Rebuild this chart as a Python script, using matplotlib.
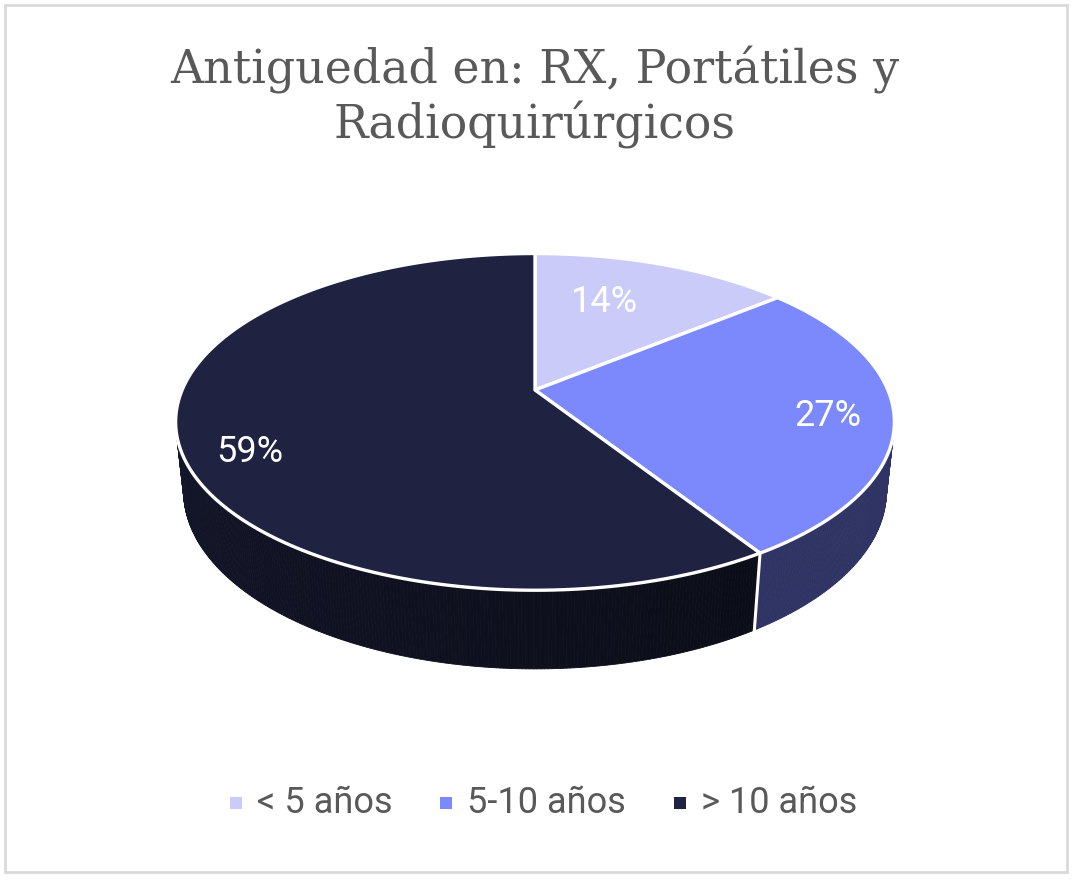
import numpy as np
import matplotlib
matplotlib.use("Agg")
import matplotlib.pyplot as plt
from matplotlib.patches import Polygon, Rectangle
from matplotlib.colors import to_rgb

# ---- data ----
categories = ["< 5 años", "5-10 años", "> 10 años"]
values = [14, 27, 59]
labels = ["14%", "27%", "59%"]
title_lines = ["Antiguedad en: RX, Portátiles y", "Radioquirúrgicos"]

# ---- style ----
top_colors = ["#cbcbfa", "#7b89fd", "#1f2240"]
side_colors = [("#8f8fc0", "#8f8fc0"), ("#2f3464", "#2f3464"), ("#1d1f3c", "#0b0d18")]
label_pos = [(605, 302), (828, 416), (250, 452)]

# projection parameters (pixel layout)
CX, CY, F, D, S = 535.0, 390.0, 1655.0, 4.69, 0.46
C = np.sqrt(1 - S**2)
H = 0.223

def proj(x, y, z):
    w = D + y * C - z * S
    u = y * S + z * C
    return CX + F * x / w, CY - F * u / w

fig = plt.figure(figsize=(10.72, 8.8), dpi=100)
ax = fig.add_axes([0, 0, 1, 1])
ax.set_xlim(0, 1072)
ax.set_ylim(880, 0)
ax.axis("off")

ax.add_patch(Rectangle((5, 5), 1062, 867, fill=False, edgecolor="#d9d9d9", lw=2))

vals = np.array(values, dtype=float)
bounds = np.concatenate([[0], np.cumsum(vals) / vals.sum() * 360.0])

# side walls (front-facing only)
for i in range(len(vals)):
    a0, a1 = bounds[i], bounds[i + 1]
    th = np.radians(np.linspace(a0, a1, max(3, int((a1 - a0) * 2))))
    c0, c1 = np.array(to_rgb(side_colors[i][0])), np.array(to_rgb(side_colors[i][1]))
    vis = np.cos(th) < -1.0 / (D * C)
    for k in range(len(th) - 1):
        if not (vis[k] or vis[k + 1]):
            continue
        t0, t1 = th[k], th[k + 1]
        pts = [proj(np.sin(t0), np.cos(t0), 0), proj(np.sin(t1), np.cos(t1), 0),
               proj(np.sin(t1), np.cos(t1), -H), proj(np.sin(t0), np.cos(t0), -H)]
        frac = (np.degrees(t0) - a0) / (a1 - a0)
        col = c1 * (1 - frac) + c0 * frac
        ax.add_patch(Polygon(pts, closed=True, facecolor=col, edgecolor=col, lw=0.6, zorder=2))
    t = np.radians(a0)
    if np.cos(t) < -1.0 / (D * C):
        p0 = proj(np.sin(t), np.cos(t), 0)
        p1 = proj(np.sin(t), np.cos(t), -H)
        ax.plot([p0[0], p1[0]], [p0[1], p1[1]], color="white", lw=2.2, zorder=3)

# top faces
for i in range(len(vals)):
    a0, a1 = bounds[i], bounds[i + 1]
    th = np.radians(np.linspace(a0, a1, 200))
    arc = [proj(np.sin(t), np.cos(t), 0) for t in th]
    pts = [proj(0, 0, 0)] + arc
    ax.add_patch(Polygon(pts, closed=True, facecolor=top_colors[i], edgecolor="white",
                         lw=2.4, joinstyle="round", zorder=4))

for (x, y), lab in zip(label_pos, labels):
    ax.text(x, y, lab, ha="center", va="center", color="white", fontsize=26,
            family="Roboto", zorder=6)

ax.text(535, 70, title_lines[0], ha="center", va="center", fontsize=33,
        family="DejaVu Serif", color="#595959")
ax.text(535, 125, title_lines[1], ha="center", va="center", fontsize=33,
        family="DejaVu Serif", color="#595959")

# legend
leg_x = [236, 446, 680]
for x, cat, col in zip(leg_x, categories, top_colors):
    ax.add_patch(Rectangle((x - 6, 797), 12, 12, facecolor=col, edgecolor="none"))
    ax.text(x + 21, 803, cat, ha="left", va="center", fontsize=26,
            family="Roboto", color="#595959")

fig.savefig("out.png", dpi=100, facecolor="white")
